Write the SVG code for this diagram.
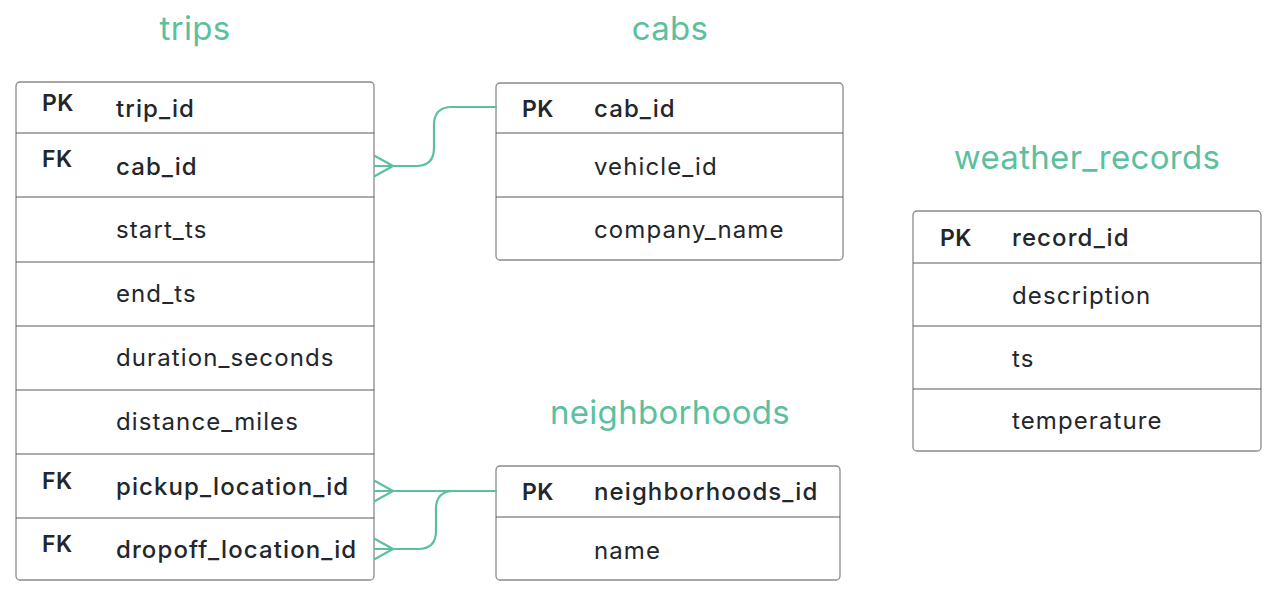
<svg xmlns="http://www.w3.org/2000/svg" width="1284" height="598" viewBox="0 0 1284 598">
<style>
.bg{fill:#ffffff}
.box{fill:#ffffff;stroke:#8a8a8e;stroke-width:1.3}
.sep{stroke:#5a5a5e;stroke-width:1.2}
.title{font-family:Inter,"Liberation Sans",sans-serif;font-size:33px;letter-spacing:0.3px;fill:#5cbf9d;text-anchor:middle}
.key{font-family:Inter,"Liberation Sans",sans-serif;font-size:23px;font-weight:600;letter-spacing:0.5px;fill:#23262b}
.name{font-family:Inter,"Liberation Sans",sans-serif;font-size:24px;letter-spacing:1.1px;fill:#23262b}
.bold{font-weight:500}
.conn{fill:none;stroke:#5cbf9d;stroke-width:2.2;stroke-linecap:round;stroke-linejoin:round}
</style>
<rect class="bg" x="0" y="0" width="1284" height="598"/>

<g id="trips">
<text class="title" x="195" y="40">trips</text>
<rect class="box" x="16" y="82" width="358" height="498" rx="4"/>
<line class="sep" x1="16" y1="133" x2="374" y2="133"/>
<line class="sep" x1="16" y1="197" x2="374" y2="197"/>
<line class="sep" x1="16" y1="262" x2="374" y2="262"/>
<line class="sep" x1="16" y1="326" x2="374" y2="326"/>
<line class="sep" x1="16" y1="390" x2="374" y2="390"/>
<line class="sep" x1="16" y1="454" x2="374" y2="454"/>
<line class="sep" x1="16" y1="518" x2="374" y2="518"/>
<text class="key" x="42" y="111">PK</text>
<text class="name bold" x="116" y="117">trip_id</text>
<text class="key" x="42" y="167">FK</text>
<text class="name bold" x="116" y="175">cab_id</text>
<text class="name" x="116" y="238">start_ts</text>
<text class="name" x="116" y="302">end_ts</text>
<text class="name" x="116" y="366">duration_seconds</text>
<text class="name" x="116" y="430">distance_miles</text>
<text class="key" x="42" y="489">FK</text>
<text class="name bold" x="116" y="495">pickup_location_id</text>
<text class="key" x="42" y="552">FK</text>
<text class="name bold" x="116" y="558">dropoff_location_id</text>
</g>

<g id="cabs">
<text class="title" x="670" y="40">cabs</text>
<rect class="box" x="496" y="83" width="347" height="177" rx="4"/>
<line class="sep" x1="496" y1="133" x2="843" y2="133"/>
<line class="sep" x1="496" y1="197" x2="843" y2="197"/>
<text class="key" x="522" y="117">PK</text>
<text class="name bold" x="594" y="117">cab_id</text>
<text class="name" x="594" y="175">vehicle_id</text>
<text class="name" x="594" y="238">company_name</text>
</g>

<g id="weather_records">
<text class="title" x="1087" y="169">weather_records</text>
<rect class="box" x="913" y="211" width="348" height="240" rx="4"/>
<line class="sep" x1="913" y1="263" x2="1261" y2="263"/>
<line class="sep" x1="913" y1="326" x2="1261" y2="326"/>
<line class="sep" x1="913" y1="389" x2="1261" y2="389"/>
<text class="key" x="940" y="246">PK</text>
<text class="name bold" x="1012" y="246">record_id</text>
<text class="name" x="1012" y="304">description</text>
<text class="name" x="1012" y="367">ts</text>
<text class="name" x="1012" y="429">temperature</text>
</g>

<g id="neighborhoods">
<text class="title" x="670" y="424">neighborhoods</text>
<rect class="box" x="496" y="466" width="344" height="114" rx="4"/>
<line class="sep" x1="496" y1="517" x2="840" y2="517"/>
<text class="key" x="522" y="500">PK</text>
<text class="name bold" x="594" y="500">neighborhoods_id</text>
<text class="name" x="594" y="559">name</text>
</g>

<g id="connectors">
<path class="conn" d="M375 156 L393 166 L375 176 M375 166 L416 166 Q434 166 434 148 L434 125 Q434 107 452 107 L496 107"/>
<path class="conn" d="M375 481 L393 491 L375 501 M375 491 L496 491"/>
<path class="conn" d="M375 539 L393 549 L375 559 M375 549 L418 549 Q436 549 436 531 L436 509 Q436 491 454 491"/>
</g>
</svg>
